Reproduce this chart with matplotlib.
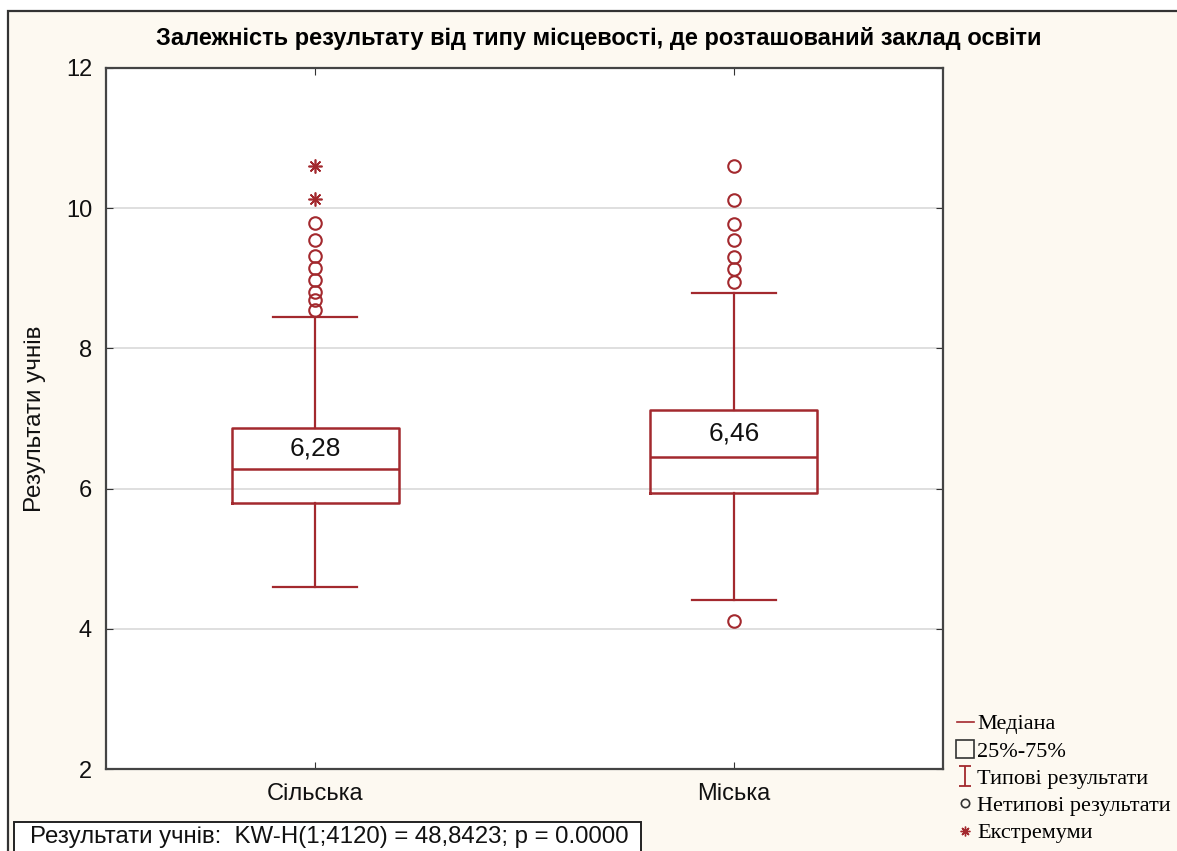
import numpy as np
import matplotlib
matplotlib.use("Agg")
import matplotlib.pyplot as plt
from matplotlib.lines import Line2D
from matplotlib.patches import Rectangle
from matplotlib.path import Path

# data
categories = ["Сільська", "Міська"]
medians = [6.28, 6.45]
median_labels = ["6,28", "6,46"]
q1 = [5.79, 5.94]
q3 = [6.86, 7.12]
whisker_low = [4.60, 4.41]
whisker_high = [8.45, 8.79]
outliers = [
    [9.79, 9.55, 9.32, 9.14, 8.98, 8.81, 8.69, 8.55],
    [10.60, 10.12, 9.78, 9.54, 9.31, 9.13, 8.95, 4.11],
]
extremes = [
    [10.60, 10.13],
    [],
]
yticks = [2, 4, 6, 8, 10, 12]

title = "Залежність результату від типу місцевості, де розташований заклад освіти"
ylabel = "Результати учнів"
stats_text = "Результати учнів:  KW-H(1;4120) = 48,8423; p = 0.0000"
legend_labels = ["Медiана", "25%-75%", "Типові результати",
                 "Нетипові результати", "Екстремуми"]

RED = "#a3292e"
plt.rcParams["font.family"] = ["Liberation Sans", "DejaVu Sans"]

# I-beam marker for the whisker legend entry
ibeam = Path([(-0.6, -1), (0.6, -1), (0, -1), (0, 1), (-0.6, 1), (0.6, 1)],
             [Path.MOVETO, Path.LINETO, Path.MOVETO, Path.LINETO,
              Path.MOVETO, Path.LINETO])


def main():
    fig = plt.figure(figsize=(11.77, 8.51), dpi=100)
    fig.patch.set_facecolor("white")
    fig.patches.append(Rectangle((8 / 1177, -0.02), 1.05, (851 - 11) / 851 + 0.02,
                                 transform=fig.transFigure, facecolor="#fdf9f1",
                                 edgecolor="#333333", lw=1.6, zorder=-10))
    fig.patches.append(Rectangle((14 / 1177, -0.01), (641 - 14) / 1177,
                                 (851 - 822) / 851 + 0.01,
                                 transform=fig.transFigure, facecolor="white",
                                 edgecolor="#222222", lw=1.4, zorder=-5))

    ax = fig.add_axes([106 / 1177, 82 / 851, 837 / 1177, 701 / 851])
    ax.set_zorder(1)
    ax.set_facecolor("white")

    positions = np.arange(1, len(categories) + 1)
    bstats = []
    for i, name in enumerate(categories):
        bstats.append(dict(label=name, med=medians[i], q1=q1[i], q3=q3[i],
                           whislo=whisker_low[i], whishi=whisker_high[i],
                           fliers=outliers[i]))
    ax.bxp(bstats, positions=positions, widths=0.40, showfliers=True,
           boxprops=dict(color=RED, lw=1.8),
           medianprops=dict(color=RED, lw=1.8),
           whiskerprops=dict(color=RED, lw=1.6),
           capprops=dict(color=RED, lw=1.6),
           capwidths=0.2,
           flierprops=dict(marker="o", markerfacecolor="none",
                           markeredgecolor=RED, markersize=9, markeredgewidth=1.5))

    for i, ext in enumerate(extremes):
        if ext:
            ax.plot([positions[i]] * len(ext), ext, linestyle="none",
                    marker=(8, 2, 0), color=RED, markersize=10, mew=1.2)

    for i, lab in enumerate(median_labels):
        ax.text(positions[i], (medians[i] + q3[i]) / 2, lab, ha="center",
                va="center", fontsize=19, color="#111111")

    ax.set_xlim(0.5, 2.5)
    ax.set_ylim(2, 12)
    ax.set_yticks(yticks)
    ax.set_xticks(positions)
    ax.set_xticklabels(categories)
    ax.tick_params(direction="in", top=True, right=True, length=5,
                   labelsize=17, colors="#333333", labelcolor="#111111", pad=10)
    ax.grid(axis="y", color="#d9d9d9", lw=1.2)
    ax.set_axisbelow(True)
    for sp in ax.spines.values():
        sp.set_color("#444444")
        sp.set_linewidth(1.6)

    ax.set_ylabel(ylabel, fontsize=17.5, labelpad=14, color="#111111")
    fig.text(0.509, 1 - 38 / 851, title, ha="center", va="center",
             fontsize=17, fontweight="bold",
             family=["Liberation Sans Narrow", "Liberation Sans", "DejaVu Sans"])

    fig.text(30 / 1177, 1 - 837 / 851, stats_text, ha="left", va="center",
             fontsize=17.3, color="#111111", zorder=5)

    handles = [
        Line2D([], [], color=RED, lw=1.2),
        Line2D([], [], linestyle="none", marker="s", markerfacecolor="none",
               markeredgecolor="#333333", markersize=13, mew=1.2),
        Line2D([], [], linestyle="none", marker=ibeam, color=RED,
               markersize=14, mew=1.3),
        Line2D([], [], linestyle="none", marker="o", markerfacecolor="none",
               markeredgecolor="#333333", markersize=6, mew=1.2),
        Line2D([], [], linestyle="none", marker=(8, 2, 0), color=RED,
               markersize=7, mew=1),
    ]
    fig.legend(handles, legend_labels, loc="upper left",
               bbox_to_anchor=(948 / 1177, 1 - 705 / 851), frameon=False,
               handlelength=0.75, handletextpad=0.15, labelspacing=0.3,
               borderaxespad=0, prop=dict(family=["Liberation Serif", "DejaVu Serif"],
                                          size=16))

    fig.savefig("out.png", dpi=100, facecolor=fig.get_facecolor())
    plt.close(fig)


if __name__ == "__main__":
    main()
